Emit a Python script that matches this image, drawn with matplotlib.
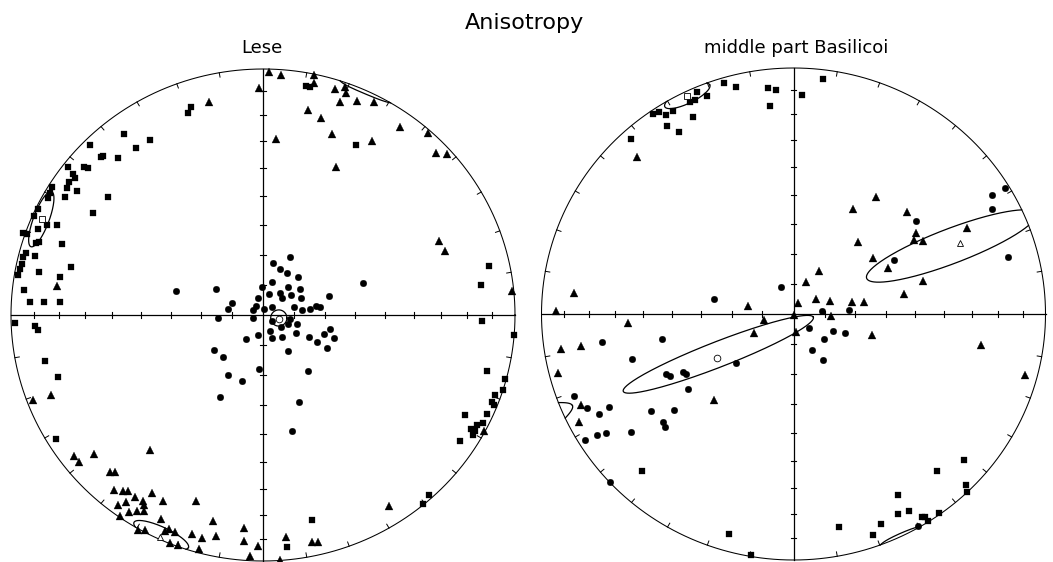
import numpy as np
import matplotlib
matplotlib.use("Agg")
import matplotlib.pyplot as plt

W, H = 1053, 562
RX, RY = 252.0, 246.0   # net radius in reading units (east-west, north-south)

# ---------------- Lese (offsets from net centre: east, north) ----------------
lese_sq_x = [-72.3, -75.3, -138.7, -112.7, -126.7, -172.7, -162.3, -160.3, -145.3, -194.7, -179, -175.3,
             -189.7, -188, -193.7, -196.3, -186.3, -210.7, -213, -214.7, -198, -154.7, -170, -225.3,
             -229.3, -215.7, -206.3, -225, -240, -236, -227.3, -224, -201.3, -237.3, -239.7, -228.3,
             -240.7, -243, -245.3, -224, -192, -202.7, -239, -233, -219, -203.3,
             43, 46.5, 93.3, 226.3, 217.7,
             -248, -228, -225.3, -218, -204.7, -207.3,
             218.7, 250.7, 224, 242, 239.7, 232.3, 228.7, 230.7, 202, 223.7, 220.3, 213.7, 208, 212,
             210.3, 197, 166.3, 159.7, 48.7, 24.3]
lese_sq_y = [207.7, 201.7, 180.7, 175, 167.3, 170, 157.7, 159, 157, 147.7, 148.3, 147,
             141, 136.7, 133.3, 127.3, 124, 128.3, 121.7, 116.7, 117.7, 118.3, 101.7, 105.7,
             99, 90.3, 90.3, 86, 82.5, 81, 72.3, 73, 70.7, 62.3, 57.7, 59,
             51, 45.7, 40, 42.7, 48.3, 38.3, 25, 13.3, 13.3, 13.3,
             229.5, 228.5, 169.7, 49.3, 30,
             -8, -11.3, -15, -45.7, -62.3, -124,
             -5.7, -20.3, -55.7, -63.7, -74.7, -79.7, -87, -89.7, -100.3, -99, -108, -110.3, -113.7, -116.3,
             -120.3, -125.7, -179.7, -189, -205, -232]

lese_tri_x = [-4, -54, 6, 18, 51.3, 51.3, 72, 82, 82.7, 77, 93.7, 111, 44.7, 58, 137.3, 165.3, 68.7,
              109.3, 13, 173, 183.7, 73, 176.3, 182.3, 249, -206.3,
              -230.3, -212, -189, -184, -168.7, -112.7, -153, -148, -148.7, -140.3, -134.7, -128, -111.3,
              -119.7, -137.3, -144.7, -118.7, -134, -126.3, -118.7, -99.7, -67, -143, -102, -49.7, -19,
              -124.7, -118, -98, -94, -88, -71.3, -61.3, -47.3, -18.7, -93, -85.3, -64, -5.3, -13,
              221.3, 126.3, 22.7, 48.7, 55.3, 17]
lese_tri_y = [227, 213.3, 243.3, 240, 240, 232.3, 225.7, 228.3, 221.7, 212.7, 214.3, 213.3, 205, 197.3,
              188.3, 182.3, 181, 174, 176, 161.7, 160.7, 148.3, 74, 64, 24.3, 29,
              -85.3, -79.7, -141.3, -147, -139, -135.3, -157.3, -157.3, -175, -175.7, -176.3, -182.3, -178,
              -185.7, -187, -190.3, -190.3, -197, -195.7, -196.3, -185.7, -185.7, -201.3, -203.7, -206.3,
              -213, -214.7, -214.7, -215.7, -214.3, -217, -219, -223, -221.3, -226.3, -228, -230.3,
              -233.7, -231.3, -241.3,
              -115.7, -191.3, -221.7, -227.3, -227.3, -245.3]

lese_cir_x = [-87.3, -47.3, -31.3, -34.7, -1.3, -4.7, -7, -10.5, 0.5, 26.7, 10.3, 17.3, 23.7, 35, 8.7,
              25.3, 37, 6, 17, 18.7, 28, 37.7, 8.7, 31.3, 38.7, 47, 53, 57, 66.3, 100.3,
              -4.7, 7, 9.3, 18, 18.7, 32.7, 25.3, 33.7, 27, 46, 54.3, 60.7, 66.7, 71.3, 64, 24.7, -4,
              44.7, 36, 28.7, -16.7, -49.3, -39.7, -34.7, -20.7, -43.3, -44.7, -9.6, 8.5]
lese_cir_y = [24, 26, 12.3, 5.7, 28.3, 16.7, 9, 5.5, 6, 57.7, 52.3, 46, 41.7, 37.7, 33.3,
              28.3, 25.7, 20.7, 21.7, 16.7, 20, 16.7, 8.3, 8.3, 5, 5.7, 9, 7.7, 18.7, 31.7,
              -20.3, -16.3, -23, -12.3, -22.3, -18, -9, -9, -3.5, -22.3, -27, -19, -14, -23, -33, -35.7, -54,
              -55.7, -87.3, -115.7, -23.7, -35.3, -42, -59.7, -65.7, -82, -2.5, -2.8, -6]

lese_mean_x = [-220.7, -103, 16]        # square, triangle, circle means
lese_mean_y = [95.7, -222, -4]
# confidence ellipses: centre x, centre y, semi-axis a, semi-axis b, angle (deg)
lese_ell_cx = [-221.7, 15.8, -101.8]
lese_ell_cy = [95.8, -3, -220]
lese_ell_a = [29.4, 8.1, 30]
lese_ell_b = [7.8, 8.1, 8]
lese_ell_ang = [69.4, 0, -24.8]

# ---------------- middle part Basilicoi ----------------
bas_sq_x = [-69.2, -57.5, -25.8, -17.5, -23.8, -86.2, -96.8, -98.5, -103.5, -120.2, -127.8, -134.2,
            -140.8, -100.2, -126.8, -114.2, -162.2, 29.8, 8.8, -151.5, -64.8, -42.5, 170.8, 143.2,
            172.2, 173.8, 104.2, 115.8, 104.2, 145.8, 128.2, 131.5, 134.8, 87.5, 45.5, 79.2]
bas_sq_y = [231.3, 227.3, 226.3, 224, 208, 218.3, 221.7, 214, 211.7, 203.3, 199, 201.7,
            200, 197.3, 188.3, 181.7, 174.7, 235, 219, -157, -219.7, -240.7, -145.7, -156.7,
            -170.7, -178.3, -181.3, -196.7, -200, -199, -203, -203, -206.7, -209.7, -212.7, -221.3]

bas_tri_x = [-156.2, -219.8, -237.5, -45.8, 82.5, 59.8, 113.2, 122.2, 120.8, 129.8, 64.8, 173.2, 79.2,
             94.8, 25.2, 12.8, 129.8, 110.5, 4.2, 22.5, 36.5, 58.8, 70.2, 37.5, 0, -165.8, -232.5,
             -212.8, -235.8, -212.8, -214.2, -79.5, -39.2, -29.2, 2.2, 78.8, 187.8, 231.5]
bas_tri_y = [156.7, 20.7, 2.7, 8.3, 116.7, 104.7, 101.7, 80.7, 74, 73.3, 72, 86.3, 55.7,
             45.7, 43.3, 32.3, 33.3, 20, 11.3, 15, 13.3, 12.3, 12.3, -1.5, -0.5, -9, -34.7,
             -32.3, -59, -90.7, -108, -85.7, -19, -5.7, -18.3, -21.3, -31.3, -61.3]

bas_cir_x = [-12.5, -79.5, 122.5, 198.2, 211.5, 198.8, 100.5, 214.2, 28, 55.5, 15.8, 39.8, 51.8, 30.2,
             18.8, 29.2, 124.2, -191.8, -131.2, -161.5, -127.5, -124, -111, -107.5, -57.5, -105.8,
             -219.5, -206.2, -184.5, -194.8, -142.2, -119.2, -130.2, -128.5, -208.5, -196.8, -187.2,
             -162.5, -183.2]
bas_cir_y = [27.3, 15, 93, 119, 125.7, 105, 54, 57.3, 3, 3.7, -14, -17.3, -18.7, -24.7,
             -36.3, -45.7, -212.3, -28.3, -24.7, -44.7, -59.5, -62, -57.5, -59.5, -48.7, -74.7,
             -82.3, -94, -92.7, -99.7, -96.7, -96, -108, -113, -126.3, -120.7, -119,
             -117.7, -167.7]

bas_mean_x = [-106.8, 166.5, -76.8]
bas_mean_y = [218, 70.7, -44]
bas_ell_cx = [-106.2, -75.2, 157.8]
bas_ell_cy = [218.2, -40.3, 68]
bas_ell_a = [25, 102, 90.6]
bas_ell_b = [7.5, 12.7, 17.4]
bas_ell_ang = [25.9, 21.3, 20.9]

INCL_TICKS = [10, 20, 30, 40, 50, 60, 70, 80]
AZ_TICKS = [a for a in range(0, 360, 10) if a % 90 != 0]

LW = 0.75
K = 'black'


def ellipse_pieces(cx, cy, a, b, ang):
    t = np.linspace(0, 2 * np.pi, 1441)
    th = np.radians(ang)
    ex = cx + a * np.cos(t) * np.cos(th) - b * np.sin(t) * np.sin(th)
    ey = cy + a * np.cos(t) * np.sin(th) + b * np.sin(t) * np.cos(th)
    u, v = ex / RX, ey / RY
    r = np.hypot(u, v)
    inside = r <= 1.0
    f = np.where(inside, 1.0, -np.sqrt(np.clip(2 - r ** 2, 0, None)) / np.maximum(r, 1e-9))
    u2, v2 = u * f, v * f
    pieces = []
    s = 0
    for i in range(1, len(t)):
        if inside[i] != inside[i - 1]:
            pieces.append((u2[s:i], v2[s:i]))
            s = i
    pieces.append((u2[s:], v2[s:]))
    return pieces


def draw_net(ax, sqx, sqy, trx, try_, cix, ciy, mx, my, ecx, ecy, ea, eb, eang):
    ax.set_xlim(-1, 1)
    ax.set_ylim(-1, 1)
    ax.set_axis_off()
    phi = np.linspace(0, 2 * np.pi, 721)
    ax.plot(np.cos(phi), np.sin(phi), color=K, lw=LW, clip_on=False)
    ax.plot([-1, 1], [0, 0], color=K, lw=0.9, clip_on=False)
    ax.plot([0, 0], [-1, 1], color=K, lw=0.9, clip_on=False)
    # inclination ticks on the cross (equal-area spacing)
    for inc in INCL_TICKS:
        rk = np.sqrt(2) * np.sin(np.radians((90 - inc) / 2))
        for s in (-1, 1):
            ax.plot([s * rk, s * rk], [-2.6 / RY, 2.6 / RY], color=K, lw=0.8, clip_on=False)
            ax.plot([-2.6 / RX, 2.6 / RX], [s * rk, s * rk], color=K, lw=0.8, clip_on=False)
    # azimuth ticks on the primitive
    for az in AZ_TICKS:
        p = np.radians(90 - az)
        ax.plot([np.cos(p), np.cos(p) * (1 - 4.5 / 249)], [np.sin(p), np.sin(p) * (1 - 4.5 / 249)],
                color=K, lw=0.7, clip_on=False)
    # ellipses
    for cx, cy, a, b, an in zip(ecx, ecy, ea, eb, eang):
        for pu, pv in ellipse_pieces(cx, cy, a, b, an):
            ax.plot(pu, pv, color=K, lw=0.9, clip_on=False)
    nx = lambda arr: np.asarray(arr) / RX
    ny = lambda arr: np.asarray(arr) / RY
    ax.plot(nx(sqx), ny(sqy), 's', ms=5.0, color=K, mew=0.2, clip_on=False, zorder=5)
    ax.plot(nx(trx), ny(try_), '^', ms=5.6, color=K, mew=0.2, clip_on=False, zorder=5)
    ax.plot(nx(cix), ny(ciy), 'o', ms=4.8, color=K, mew=0.2, clip_on=False, zorder=5)
    for m, x, y in zip(['s', '^', 'o'], mx, my):
        ax.plot([x / RX], [y / RY], m, ms=4.8, mfc='white', mec=K, mew=0.6, clip_on=False, zorder=6)


fig = plt.figure(figsize=(W / 100, H / 100), dpi=100)
fig.patch.set_facecolor('white')

# left net: centre (263, 315) px
axL = fig.add_axes([(263 - RX) / W, (H - (315 + RY)) / H, 2 * RX / W, 2 * RY / H])
draw_net(axL, lese_sq_x, lese_sq_y, lese_tri_x, lese_tri_y, lese_cir_x, lese_cir_y,
         lese_mean_x, lese_mean_y, lese_ell_cx, lese_ell_cy, lese_ell_a, lese_ell_b, lese_ell_ang)

# right net: centre (793.5, 314) px
axR = fig.add_axes([(793.5 - RX) / W, (H - (314 + RY)) / H, 2 * RX / W, 2 * RY / H])
draw_net(axR, bas_sq_x, bas_sq_y, bas_tri_x, bas_tri_y, bas_cir_x, bas_cir_y,
         bas_mean_x, bas_mean_y, bas_ell_cx, bas_ell_cy, bas_ell_a, bas_ell_b, bas_ell_ang)

fig.text(524 / W, 1 - 28.7 / H, 'Anisotropy', ha='center', va='baseline', fontsize=16,
         family='DejaVu Sans')
fig.text(261.7 / W, 1 - 53.2 / H, 'Lese', ha='center', va='baseline', fontsize=13,
         family='DejaVu Sans')
fig.text(795.8 / W, 1 - 53.4 / H, 'middle part Basilicoi', ha='center', va='baseline', fontsize=13,
         family='DejaVu Sans')

fig.savefig('out.png', dpi=100, facecolor='white')
